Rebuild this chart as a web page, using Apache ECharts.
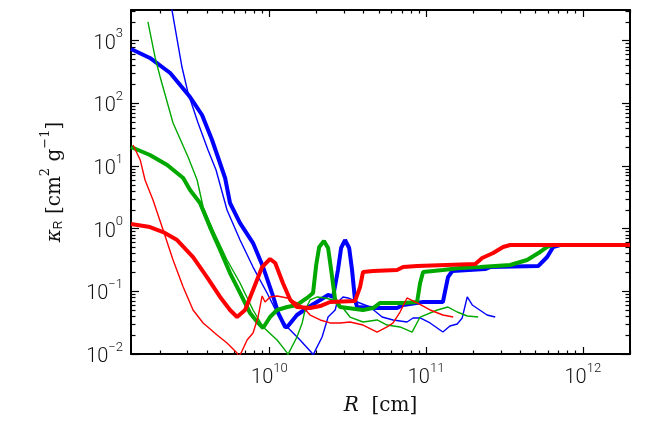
<!DOCTYPE html>
<html>
<head>
<meta charset="utf-8">
<script src="https://cdn.jsdelivr.net/npm/echarts@6/dist/echarts.min.js"></script>
<style>html,body{margin:0;padding:0;background:#fff;}#c{width:668px;height:438px;}</style>
</head>
<body>
<div id="c"></div>
<script>
// Axis ranges and ticks
const xRange = [1.31e9, 2.0e12];
const yRange = [0.01, 3090];
const xMajor = [1e10, 1e11, 1e12];
const yMajor = [1e-2, 1e-1, 1, 10, 100, 1000];

// Series: [R (cm), kappa_R (cm^2/g)]
const blueThick = [[1.31e9,738],[1.73e9,530],[2.33e9,305],[3.12e9,126],[3.72e9,65.2],[4.31e9,26.0],[5.22e9,6.44],[5.61e9,2.57],[6.50e9,1.23],[7.87e9,0.590],[9.12e9,0.244],[1.06e10,0.0813],[1.14e10,0.0451],[1.26e10,0.0270],[1.30e10,0.0270],[1.50e10,0.0419],[1.74e10,0.0542],[2.11e10,0.0728],[2.37e10,0.0876],[2.55e10,0.0813],[2.74e10,0.219],[2.87e10,0.492],[3.04e10,0.659],[3.23e10,0.492],[3.37e10,0.219],[3.52e10,0.0728],[3.63e10,0.0562],[4.59e10,0.0542],[6.53e10,0.0542],[7.13e10,0.0606],[9.57e10,0.0676],[1.28e11,0.0676],[1.38e11,0.169],[1.47e11,0.211],[2.38e11,0.227],[2.56e11,0.244],[5.19e11,0.253],[5.92e11,0.353],[6.47e11,0.511],[7.16e11,0.549],[2.0e12,0.549]];
const blueThin = [[2.33e9,4470],[2.77e9,380],[3.03e9,146],[3.51e9,48.6],[4.06e9,18.0],[4.57e9,8.64],[5.37e9,1.99],[6.50e9,0.659],[7.87e9,0.244],[9.67e9,0.0942],[1.12e10,0.0451],[1.30e10,0.0270],[1.57e10,0.0167],[1.87e10,0.0104],[1.90e10,0.0090],[1.93e10,0.0104],[2.17e10,0.0187],[2.37e10,0.0389],[2.63e10,0.0504],[2.70e10,0.0652],[2.95e10,0.0813],[3.18e10,0.0784],[3.63e10,0.0676],[4.39e10,0.0562],[5.24e10,0.0389],[6.16e10,0.0349],[7.56e10,0.0324],[8.26e10,0.0376],[9.16e10,0.0376],[1.06e11,0.0313],[1.28e11,0.0224],[1.42e11,0.0280],[1.58e11,0.0301],[1.70e11,0.0376],[1.83e11,0.0813],[1.97e11,0.0606],[2.45e11,0.0419],[2.76e11,0.0389]];
const greenThick = [[1.31e9,20.1],[1.73e9,15.0],[2.23e9,10.4],[2.82e9,6.44],[3.12e9,4.14],[3.61e9,2.57],[4.18e9,1.06],[4.85e9,0.457],[5.61e9,0.196],[6.50e9,0.0942],[7.53e9,0.0451],[8.47e9,0.0313],[9.12e9,0.0260],[1.01e10,0.0389],[1.12e10,0.0504],[1.30e10,0.0562],[1.50e10,0.0606],[1.74e10,0.0784],[1.90e10,0.0942],[1.99e10,0.263],[2.08e10,0.511],[2.23e10,0.635],[2.37e10,0.492],[2.48e10,0.219],[2.63e10,0.0728],[2.83e10,0.0562],[3.96e10,0.0504],[4.59e10,0.0542],[5.09e10,0.0652],[7.13e10,0.0652],[8.76e10,0.0676],[9.16e10,0.136],[9.57e10,0.204],[1.28e11,0.219],[1.65e11,0.235],[2.21e11,0.244],[3.44e11,0.263],[4.41e11,0.316],[5.34e11,0.425],[5.92e11,0.511],[6.47e11,0.549],[2.0e12,0.549]];
const greenThin = [[1.68e9,1990],[1.87e9,530],[2.01e9,264],[2.43e9,48.6],[3.03e9,13.9],[3.46e9,5.98],[3.78e9,2.22],[4.37e9,0.953],[5.37e9,0.316],[6.50e9,0.136],[7.87e9,0.0504],[9.12e9,0.0270],[1.12e10,0.0167],[1.30e10,0.0104],[1.31e10,0.0090],[1.33e10,0.0104],[1.50e10,0.0187],[1.62e10,0.0313],[1.69e10,0.0504],[1.82e10,0.0728],[2.02e10,0.0813],[2.27e10,0.0784],[2.55e10,0.0728],[2.95e10,0.0542],[3.27e10,0.0389],[3.96e10,0.0324],[4.87e10,0.0349],[5.64e10,0.0290],[6.82e10,0.0270],[8.14e10,0.0224],[9.16e10,0.0389],[1.18e11,0.0504],[1.38e11,0.0562],[1.58e11,0.0468],[1.83e11,0.0404],[2.15e11,0.0389]];
const redThick = [[1.31e9,1.19],[1.73e9,1.06],[2.10e9,0.885],[2.58e9,0.659],[3.26e9,0.353],[4.00e9,0.169],[4.85e9,0.0813],[5.61e9,0.0504],[6.22e9,0.0389],[7.00e9,0.0504],[7.87e9,0.105],[8.99e9,0.244],[1.01e10,0.328],[1.09e10,0.283],[1.22e10,0.136],[1.36e10,0.0728],[1.50e10,0.0562],[1.82e10,0.0542],[2.11e10,0.0583],[2.44e10,0.0676],[3.52e10,0.0702],[3.79e10,0.117],[3.96e10,0.204],[4.59e10,0.211],[6.53e10,0.219],[7.13e10,0.244],[8.76e10,0.253],[2.06e11,0.273],[2.28e11,0.340],[2.68e11,0.409],[3.10e11,0.511],[3.44e11,0.549],[2.0e12,0.549]];
const redThin = [[1.35e9,21.6],[1.50e9,12.5],[1.61e9,5.98],[1.81e9,2.87],[2.10e9,0.953],[2.43e9,0.316],[2.82e9,0.117],[3.26e9,0.0504],[3.78e9,0.0313],[4.64e9,0.0201],[5.37e9,0.0150],[6.22e9,0.0104],[6.36e9,0.0090],[6.60e9,0.0104],[7.21e9,0.0167],[7.87e9,0.0216],[8.47e9,0.0389],[8.99e9,0.0844],[9.39e9,0.0676],[1.01e10,0.0813],[1.12e10,0.0844],[1.30e10,0.0784],[1.50e10,0.0652],[1.64e10,0.0562],[1.82e10,0.0419],[2.11e10,0.0349],[2.44e10,0.0313],[2.83e10,0.0313],[3.27e10,0.0324],[3.96e10,0.0290],[4.87e10,0.0224],[5.64e10,0.0270],[6.16e10,0.0313],[6.82e10,0.0468],[7.56e10,0.0784],[8.76e10,0.0652],[1.06e11,0.0504],[1.28e11,0.0419],[1.49e11,0.0389]];

const BLUE = '#0000ff', GREEN = '#00a800', RED = '#ff0000';

function minorLogs(range) {
  const out = [];
  const lo = Math.floor(Math.log10(range[0])), hi = Math.ceil(Math.log10(range[1]));
  for (let e = lo; e <= hi; e++) for (let k = 2; k <= 9; k++) {
    const v = k * Math.pow(10, e);
    if (v >= range[0] && v <= range[1]) out.push(Math.log10(v));
  }
  return out;
}
const xMajorLog = xMajor.map(v => Math.log10(v));
const yMajorLog = yMajor.map(v => Math.log10(v));
const xMinorLog = minorLogs(xRange);
const yMinorLog = minorLogs(yRange);

const labelFont = 'Roboto';
const rich = {
  n: {fontSize: 20, fontFamily: labelFont, fontWeight: 300, color: '#111', lineHeight: 26, verticalAlign: 'bottom'},
  s: {fontSize: 13, fontFamily: labelFont, fontWeight: 300, color: '#111', lineHeight: 13, verticalAlign: 'top'}
};
function fmt(v) {
  const e = Math.round(v);
  return '{n|10}{s|' + (e < 0 ? '\u2212' + (-e) : e) + '}';
}
const lineStyle = {color: '#000', width: 2};

function overlayX(position, ticks, len, withLabel, line) {
  return {
    type: 'value', gridIndex: 0, position: position,
    min: Math.log10(xRange[0]), max: Math.log10(xRange[1]),
    axisLine: {show: line, onZero: false, lineStyle: lineStyle},
    axisTick: {show: true, inside: true, length: len, customValues: ticks, lineStyle: {color: '#000', width: 1.2}},
    axisLabel: withLabel ? {show: true, customValues: xMajorLog, formatter: fmt, rich: rich, margin: 8} : {show: false},
    splitLine: {show: false},
    name: withLabel ? '{i|R}{t|  [cm]}' : '',
    nameLocation: 'middle', nameGap: 42,
    nameTextStyle: {rich: {
      i: {fontFamily: 'DejaVu Serif', fontStyle: 'italic', fontSize: 20, color: '#111'},
      t: {fontFamily: 'DejaVu Serif', fontSize: 20, color: '#111'}
    }}
  };
}
function overlayY(position, ticks, len, withLabel, line) {
  return {
    type: 'value', gridIndex: 0, position: position,
    min: Math.log10(yRange[0]), max: Math.log10(yRange[1]),
    axisLine: {show: line, onZero: false, lineStyle: lineStyle},
    axisTick: {show: true, inside: true, length: len, customValues: ticks, lineStyle: {color: '#000', width: 1.2}},
    axisLabel: withLabel ? {show: true, customValues: yMajorLog, formatter: fmt, rich: rich, margin: 8} : {show: false},
    splitLine: {show: false},
    name: withLabel ? '{k|\u03ba}{sub|R}{t| [cm}{sup|2}{t| g}{sup|\u22121}{t|]}' : '',
    nameLocation: 'middle', nameGap: 66, nameRotate: 90,
    nameTextStyle: {rich: {
      k: {fontFamily: 'DejaVu Serif', fontStyle: 'italic', fontSize: 20, color: '#111', lineHeight: 26, verticalAlign: 'bottom'},
      t: {fontFamily: 'DejaVu Serif', fontSize: 20, color: '#111', lineHeight: 26, verticalAlign: 'bottom'},
      sub: {fontFamily: 'Liberation Sans', fontSize: 12, color: '#111', lineHeight: 12, verticalAlign: 'bottom'},
      sup: {fontFamily: 'DejaVu Serif', fontSize: 13, color: '#111', lineHeight: 13, verticalAlign: 'top'}
    }}
  };
}

function mk(name, data, color, width) {
  return {name: name, type: 'line', xAxisIndex: 0, yAxisIndex: 0, data: data, showSymbol: false, symbol: 'none',
    lineStyle: {color: color, width: width}, itemStyle: {color: color}, clip: true, z: 2};
}

const chart = echarts.init(document.getElementById('c'), null, {renderer: 'canvas'});
chart.setOption({
  animation: false,
  backgroundColor: '#fff',
  grid: {left: 131, top: 10, width: 499, height: 344, containLabel: false, outerBoundsMode: 'none'},
  xAxis: [
    {type: 'log', gridIndex: 0, min: xRange[0], max: xRange[1], show: false, splitLine: {show: false}},
    overlayX('bottom', xMajorLog, 7, true, true),
    overlayX('bottom', xMinorLog, 3.5, false, false),
    overlayX('top', xMajorLog, 7, false, true),
    overlayX('top', xMinorLog, 3.5, false, false)
  ],
  yAxis: [
    {type: 'log', gridIndex: 0, min: yRange[0], max: yRange[1], show: false, splitLine: {show: false}},
    overlayY('left', yMajorLog, 8, true, true),
    overlayY('left', yMinorLog, 4.5, false, false),
    overlayY('right', yMajorLog, 8, false, true),
    overlayY('right', yMinorLog, 4.5, false, false)
  ],
  series: [
    mk('blue thick', blueThick, BLUE, 4),
    mk('blue thin', blueThin, BLUE, 1.4),
    mk('green thick', greenThick, GREEN, 4),
    mk('green thin', greenThin, GREEN, 1.4),
    mk('red thick', redThick, RED, 4),
    mk('red thin', redThin, RED, 1.4)
  ]
});
</script>
</body>
</html>
